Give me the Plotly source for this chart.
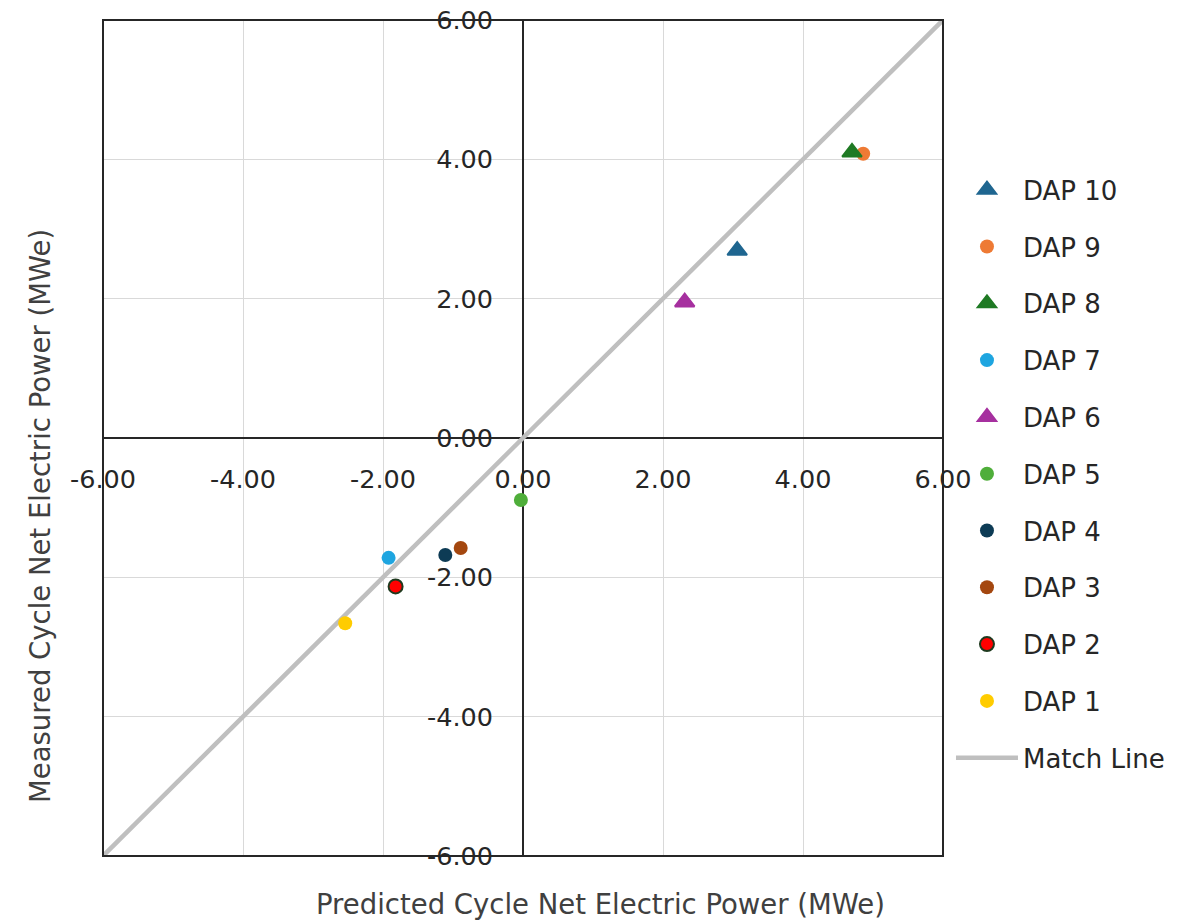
import plotly.graph_objects as go

# ---- data ----
series_names = ["DAP 10", "DAP 9", "DAP 8", "DAP 7", "DAP 6", "DAP 5", "DAP 4", "DAP 3", "DAP 2", "DAP 1"]
predicted = [3.06, 4.86, 4.70, -1.92, 2.31, -0.03, -1.11, -0.89, -1.82, -2.54]
measured = [2.69, 4.08, 4.10, -1.72, 1.95, -0.89, -1.68, -1.58, -2.13, -2.66]
symbols = ["triangle-up", "circle", "triangle-up", "circle", "triangle-up", "circle", "circle", "circle", "circle", "circle"]
colors = ["#1f6690", "#ee7a34", "#1f7a24", "#1ea5e0", "#a6309f", "#4fae3a", "#0d3b55", "#a4470f", "#ff0000", "#ffcc00"]
outline_colors = ["#1f6690", "#ee7a34", "#1f7a24", "#1ea5e0", "#a6309f", "#4fae3a", "#0d3b55", "#a4470f", "#1f3a1f", "#ffcc00"]

match_x = [-6, 6]
match_y = [-6, 6]

tick_vals = [-6, -4, -2, 0, 2, 4, 6]
tick_text = ["-6.00", "-4.00", "-2.00", "0.00", "2.00", "4.00", "6.00"]

FONT = "DejaVu Sans"

fig = go.Figure()

fig.add_trace(go.Scatter(
    x=match_x, y=match_y, mode="lines", name="Match Line",
    line=dict(color="#bfbfbf", width=4.5),
    legendgroup="match", legendrank=2000,
))

for name, px, my, sym, col, ocol in zip(series_names, predicted, measured, symbols, colors, outline_colors):
    tri = sym.startswith("triangle")
    if tri:
        mk = dict(symbol=sym, size=17, color=col, line=dict(color=col, width=2))
    else:
        mk = dict(symbol=sym, size=14, color=col,
                  line=dict(color=ocol, width=2 if name == "DAP 2" else 0))
    fig.add_trace(go.Scatter(
        x=[px], y=[my], mode="markers", name=name, marker=mk, legendgroup=name,
    ))

axis_common = dict(
    range=[-6, 6], tickvals=tick_vals, ticktext=tick_text,
    showgrid=True, gridcolor="#d9d9d9", gridwidth=1.3,
    zeroline=True, zerolinecolor="#262626", zerolinewidth=2,
    showline=False, ticks="",
    anchor="free", position=0.5, automargin=False,
    ticklabeloverflow="allow",
    tickfont=dict(family=FONT, size=25.5, color="#262626"),
)
fig.update_xaxes(**axis_common, ticklabelstandoff=23)
fig.update_yaxes(**axis_common, ticklabelstandoff=30)

fig.add_shape(type="rect", xref="x domain", yref="y domain", x0=0, x1=1, y0=0, y1=1,
              line=dict(color="#262626", width=2), layer="above")

fig.add_annotation(text="Predicted Cycle Net Electric Power (MWe)", xref="paper", yref="paper",
                   x=0.5917, y=-0.0574, showarrow=False, xanchor="center", yanchor="middle",
                   font=dict(family=FONT, size=27.5, color="#404040"))
fig.add_annotation(text="Measured Cycle Net Electric Power (MWe)", xref="paper", yref="paper",
                   x=-0.075, y=0.4067, showarrow=False, xanchor="center", yanchor="middle",
                   textangle=-90, font=dict(family=FONT, size=27.5, color="#404040"))

fig.update_layout(
    width=1192, height=923,
    margin=dict(l=103, r=249, t=20, b=67, autoexpand=False),
    paper_bgcolor="white", plot_bgcolor="white",
    showlegend=True,
    legend=dict(x=1.0095, y=0.825, xanchor="left", yanchor="top",
                font=dict(family=FONT, size=26, color="#262626"),
                traceorder="grouped", tracegroupgap=20, itemwidth=62,
                bgcolor="rgba(0,0,0,0)"),
)

fig.write_html("out.html", config={"displayModeBar": False},
               post_script="document.body.style.margin='0';document.body.style.overflow='hidden';")
